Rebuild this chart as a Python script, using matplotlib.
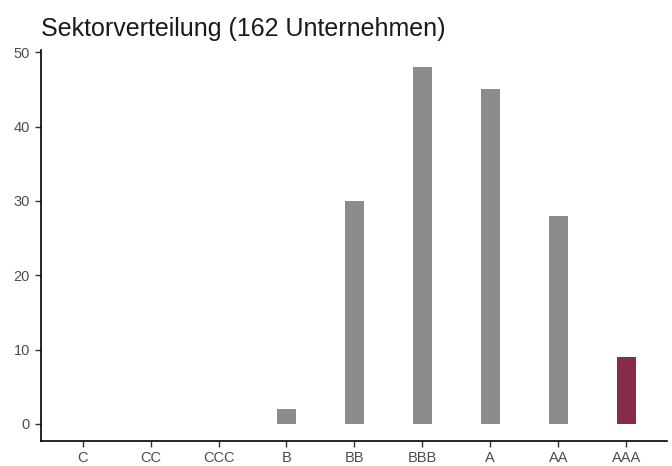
import matplotlib
matplotlib.use("Agg")
import matplotlib.pyplot as plt

categories = ["C", "CC", "CCC", "B", "BB", "BBB", "A", "AA", "AAA"]
counts = [0, 0, 0, 2, 30, 48, 45, 28, 9]
highlight = "AAA"
title = "Sektorverteilung (162 Unternehmen)"
y_ticks = [0, 10, 20, 30, 40, 50]

plt.rcParams['font.family'] = ['Liberation Sans', 'DejaVu Sans']

W, H = 672, 466
fig = plt.figure(figsize=(W / 100, H / 100), dpi=100)
left, right, bottom, top = 40.5, 667, 441, 50
ax = fig.add_axes([left / W, (H - bottom) / H, (right - left) / W, (bottom - top) / H])

colors = ["#882B48" if c == highlight else "#8C8C8C" for c in categories]
x = list(range(len(categories)))
ax.bar(x, counts, width=0.28, color=colors, edgecolor="none")

ax.set_xlim(-0.62, len(categories) - 0.4)
ax.set_ylim(-2.3, 50.3)
ax.set_xticks(x)
ax.set_xticklabels(categories)
ax.set_yticks(y_ticks)

for s in ["top", "right"]:
    ax.spines[s].set_visible(False)
for s in ["left", "bottom"]:
    ax.spines[s].set_linewidth(1.2)
    ax.spines[s].set_color("black")

ax.tick_params(axis="both", colors="#333333", labelcolor="#4D4D4D", labelsize=10.5, length=4, width=1)

fig.text(41 / W, 1 - 29 / H, title, fontsize=18, color="#1a1a1a", ha="left", va="center")

fig.savefig("out.png", dpi=100, facecolor="white")
